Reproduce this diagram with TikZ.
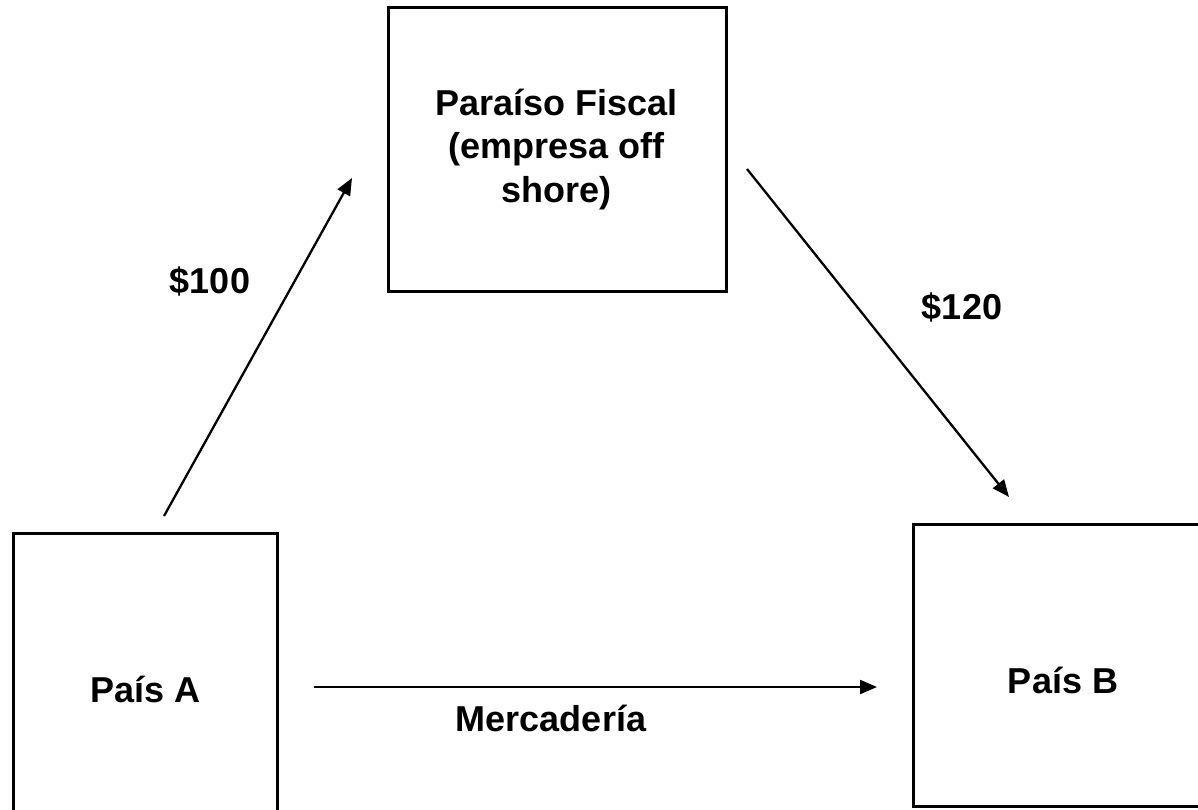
\documentclass[tikz,border=0pt]{standalone}
\usepackage{fontspec}
\setmainfont{Liberation Sans}
\usetikzlibrary{arrows.meta}
\begin{document}
\begin{tikzpicture}[x=1pt,y=-1pt,
  box/.style={draw=black,line width=3pt,inner sep=0pt},
  lbl/.style={font=\fontsize{36}{43.5}\selectfont\bfseries,anchor=base,inner sep=0pt},
  arr/.style={line width=2.3pt,-{Triangle[length=17pt,width=14pt]}}]
\useasboundingbox (0,0) rectangle (1198,809);
\clip (0,0) rectangle (1198,809);
\fill[white] (0,0) rectangle (1198,809);
% boxes
\node[box,minimum width=338pt,minimum height=284pt] (pf) at (557,149) {};
\node[box,minimum width=264pt,minimum height=300pt] (pa) at (145,683) {};
\node[box,minimum width=300pt,minimum height=282pt] (pb) at (1063,665) {};
% texts
\node[lbl,align=center] (tpf) at (556.5,202) {Paraíso Fiscal\\(empresa off\\shore)};
\node[lbl] (tpa) at (145.5,702) {País A};
\node[lbl] (tpb) at (1063,693) {País B};
\node[lbl] (t100) at (210,293) {\$100};
\node[lbl] (t120) at (962,319) {\$120};
\node[lbl] (tm) at (551,731) {Mercadería};
% connector ends
\coordinate (a1s) at (164,516);
\coordinate (a1e) at (352,178);
\coordinate (a2s) at (747,169);
\coordinate (a2e) at (1009,497);
\coordinate (a3s) at (314,687);
\coordinate (a3e) at (877,687);
\draw[arr] (a1s) -- (a1e);
\draw[arr] (a2s) -- (a2e);
\draw[arr] (a3s) -- (a3e);
\end{tikzpicture}
\end{document}
